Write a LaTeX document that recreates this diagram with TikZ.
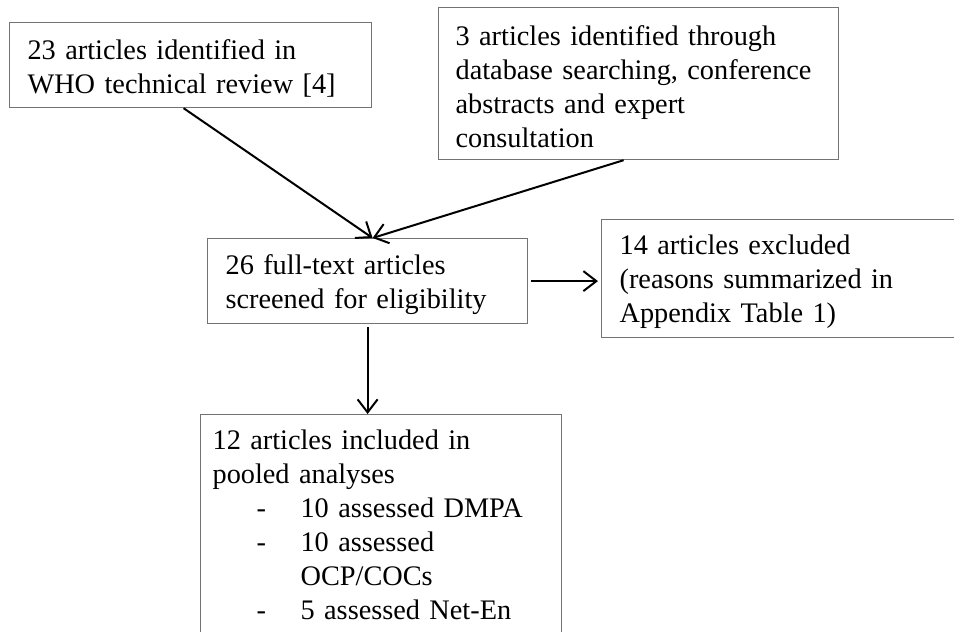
\documentclass[tikz,border=0pt]{standalone}
\usepackage{fontspec}
\setmainfont{Liberation Serif}
\usetikzlibrary{arrows.meta}
\begin{document}
\begin{tikzpicture}[x=1pt,y=-1pt]
\tikzstyle{box}=[draw=black!55,line width=1.2pt,anchor=north west,align=left,inner xsep=18pt,inner ysep=8pt,font=\fontsize{28.3}{34}\selectfont,execute at begin node={\rule{0pt}{26pt}}]
\tikzstyle{link}=[-{Straight Barb[length=13pt,width=20pt]},line width=2pt]

\useasboundingbox (0,0) rectangle (954,632);
\clip (0,0) rectangle (954,632);
\fill[white] (0,0) rectangle (954,632);

\node[box,text width=326pt,minimum height=85pt] (n1) at (9,22) {23 articles identified in\\WHO technical review [4]};
\node[box,text width=366pt,minimum height=152pt,inner xsep=17pt] (n2) at (438,7) {3 articles identified through\\database searching, conference\\abstracts and expert\\consultation};
\node[box,text width=284pt,minimum height=85pt] (n3) at (207,238) {26 full-text articles\\screened for eligibility};
\node[box,text width=340pt,minimum height=118pt] (n4) at (601,219) {14 articles excluded\\(reasons summarized in\\Appendix Table 1)};
\node[box,text width=337pt,inner xsep=12pt,inner ysep=9pt] (n5) at (200,414) {12 articles included in\\pooled analyses\\
\makebox[88pt][l]{\hspace*{44pt}-}10 assessed DMPA\\
\makebox[88pt][l]{\hspace*{44pt}-}10 assessed\\
\hspace*{88pt}OCP/COCs\\
\makebox[88pt][l]{\hspace*{44pt}-}5 assessed Net-En\rule[-20pt]{0pt}{1pt}};

\draw[link] ([xshift=-7pt]n1.south) to ([xshift=5pt]n3.north);
\draw[link] ([xshift=-15pt]n2.south) to ([xshift=5pt]n3.north);
\draw[link,shorten <=3pt,shorten >=3pt] (n3.east) -- (n3.east -| n4.west);
\draw[link,shorten <=3pt] (n3.south) -- (n3.south |- n5.north);

\end{tikzpicture}
\end{document}
